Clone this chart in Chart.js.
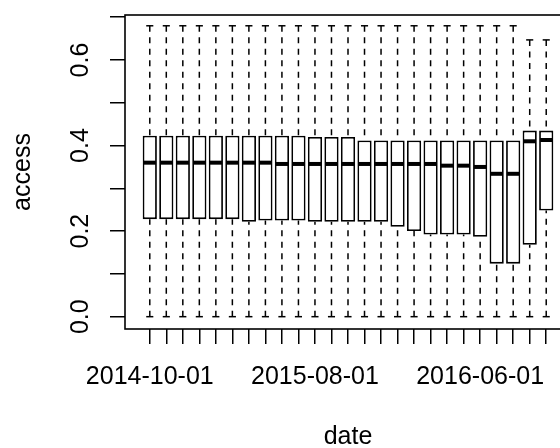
<!DOCTYPE html>
<html>
<head>
<meta charset="utf-8">
<script src="https://cdn.jsdelivr.net/npm/chart.js@4/dist/chart.umd.min.js"></script>
<style>
  html, body { margin: 0; padding: 0; background: #fff; overflow: hidden; }
  #wrap { width: 560px; height: 448px; overflow: hidden; }
</style>
</head>
<body>
<div id="wrap"><canvas id="box" width="600" height="448"></canvas></div>
<script>
// monthly samples, one box each
const DATES = [
  '2014-10-01', '2014-11-01', '2014-12-01', '2015-01-01', '2015-02-01', '2015-03-01',
  '2015-04-01', '2015-05-01', '2015-06-01', '2015-07-01', '2015-08-01', '2015-09-01',
  '2015-10-01', '2015-11-01', '2015-12-01', '2016-01-01', '2016-02-01', '2016-03-01',
  '2016-04-01', '2016-05-01', '2016-06-01', '2016-07-01', '2016-08-01', '2016-09-01',
  '2016-10-01'
];
const LOW    = [0, 0, 0, 0, 0, 0, 0, 0, 0, 0, 0, 0, 0, 0, 0, 0, 0, 0, 0, 0, 0, 0, 0, 0, 0];
const Q1     = [0.228, 0.228, 0.228, 0.228, 0.228, 0.228, 0.222, 0.225, 0.225, 0.225,
                0.222, 0.222, 0.222, 0.222, 0.222, 0.210, 0.200, 0.192, 0.192, 0.192,
                0.187, 0.124, 0.124, 0.168, 0.248];
const MEDIAN = [0.360, 0.360, 0.360, 0.360, 0.360, 0.360, 0.360, 0.360, 0.357, 0.357,
                0.357, 0.357, 0.357, 0.357, 0.357, 0.357, 0.357, 0.357, 0.353, 0.353,
                0.350, 0.334, 0.334, 0.410, 0.413];
const Q3     = [0.423, 0.423, 0.423, 0.423, 0.423, 0.423, 0.423, 0.423, 0.423, 0.423,
                0.420, 0.420, 0.420, 0.412, 0.412, 0.412, 0.412, 0.412, 0.412, 0.412,
                0.412, 0.412, 0.412, 0.435, 0.435];
const HIGH   = [0.680, 0.680, 0.680, 0.680, 0.680, 0.680, 0.680, 0.680, 0.680, 0.680,
                0.680, 0.680, 0.680, 0.680, 0.680, 0.680, 0.680, 0.680, 0.680, 0.680,
                0.680, 0.680, 0.680, 0.647, 0.647];

const X_SHOWN = ['2014-10-01', '2015-08-01', '2016-06-01'];   // R drops the overlapping ones
const Y_TICKS = [0, 0.1, 0.2, 0.3, 0.4, 0.5, 0.6, 0.7];
const Y_SHOWN = ['0.0', '0.2', '0.4', '0.6'];

const INK = '#000';
const FONT = { family: "'Liberation Sans', Arial, sans-serif", size: 25, lineHeight: 1.2 };

// whiskers, staples, medians and the plot frame (R bxp style)
const bxpPlugin = {
  id: 'bxp',
  afterDatasetsDraw(chart) {
    const { ctx, chartArea, scales } = chart;
    const y = scales.y;
    const bars = chart.getDatasetMeta(0).data;
    ctx.save();
    ctx.strokeStyle = INK;
    const seg = (x0, y0, x1, y1) => { ctx.beginPath(); ctx.moveTo(x0, y0); ctx.lineTo(x1, y1); ctx.stroke(); };
    bars.forEach((bar, i) => {
      const { x: cx, width } = bar.getProps(['x', 'width'], true);
      const half = width / 2, cap = width / 4;
      const yLo = y.getPixelForValue(LOW[i]), yQ1 = y.getPixelForValue(Q1[i]);
      const yHi = y.getPixelForValue(HIGH[i]), yQ3 = y.getPixelForValue(Q3[i]);
      ctx.lineWidth = 1.5;
      ctx.setLineDash([6, 5.5]);
      seg(cx, yLo, cx, yQ1);
      seg(cx, yHi, cx, yQ3);
      ctx.setLineDash([]);
      seg(cx - cap, yLo, cx + cap, yLo);
      seg(cx - cap, yHi, cx + cap, yHi);
      ctx.lineWidth = 4;
      const ym = y.getPixelForValue(MEDIAN[i]);
      seg(cx - half + 1, ym, cx + half - 1, ym);
    });
    ctx.lineWidth = 1.6;
    ctx.strokeRect(chartArea.left, chartArea.top, chartArea.right - chartArea.left, chartArea.bottom - chartArea.top);
    ctx.restore();
  }
};

new Chart(document.getElementById('box'), {
  type: 'bar',
  data: {
    datasets: [{
      data: DATES.map((d, i) => ({ x: i + 1, y: [Q1[i], Q3[i]] })),
      backgroundColor: '#fff',
      borderColor: INK,
      borderWidth: 1.8,
      borderSkipped: false,
      barPercentage: 0.86,
      categoryPercentage: 1,
    }]
  },
  options: {
    responsive: false,
    animation: false,
    events: [],
    layout: { padding: { top: 15, right: 29, left: 0, bottom: 0 } },
    plugins: { legend: { display: false }, tooltip: { enabled: false } },
    scales: {
      x: {
        type: 'linear',
        offset: false,
        min: -0.5,
        max: 26.5,
        afterBuildTicks: s => { s.ticks = DATES.map((_, i) => ({ value: i + 1 })); },
        afterFit: s => { s.height = 119; s.paddingLeft = 0; s.paddingRight = 0; },
        grid: { offset: false, drawOnChartArea: false, color: INK, lineWidth: 1.5, tickLength: 15 },
        border: { display: false },
        ticks: {
          autoSkip: false, maxRotation: 0, padding: 18, color: INK, font: FONT,
          callback: v => { const d = DATES[v - 1]; return X_SHOWN.includes(d) ? d : ''; }
        },
        title: { display: true, text: 'date', color: INK, font: { ...FONT, lineHeight: 0.9 }, padding: 0 }
      },
      y: {
        min: -0.0288,
        max: 0.7052,
        afterBuildTicks: s => { s.ticks = Y_TICKS.map(v => ({ value: v })); },
        afterFit: s => { s.width = 125; s.paddingTop = 0; s.paddingBottom = 0; },
        grid: { drawOnChartArea: false, color: INK, lineWidth: 1.5, tickLength: 15 },
        border: { display: false },
        ticks: {
          autoSkip: false, minRotation: 90, maxRotation: 90, crossAlign: 'center', padding: 12,
          color: INK, font: FONT,
          callback: v => { const t = v.toFixed(1); return Y_SHOWN.includes(t) ? t : ''; }
        },
        title: { display: true, text: 'access', color: INK, font: { ...FONT, lineHeight: 1.2 }, padding: { top: 8, bottom: 0 } }
      }
    }
  },
  plugins: [bxpPlugin]
});
</script>
</body>
</html>
